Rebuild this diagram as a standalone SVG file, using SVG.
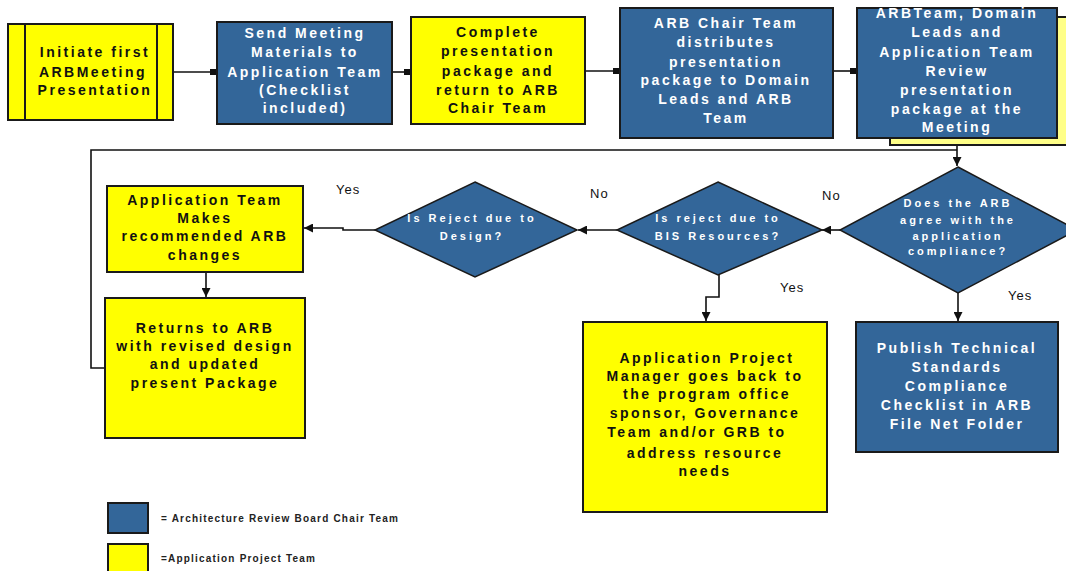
<svg xmlns="http://www.w3.org/2000/svg" width="1066" height="571" viewBox="0 0 1066 571">
<defs>
<marker id="sq" viewBox="0 0 6 6" refX="6" refY="3" markerWidth="6" markerHeight="6" markerUnits="userSpaceOnUse"><rect x="0" y="0" width="6" height="6" fill="#111"/></marker>
<marker id="arr" viewBox="0 0 10 10" refX="10" refY="5" markerWidth="9" markerHeight="9" markerUnits="userSpaceOnUse" orient="auto"><path d="M0,0 L10,5 L0,10 z" fill="#111"/></marker>
<style>
.blue{fill:#336699;stroke:#1a1a1a;stroke-width:2}
.yel{fill:#ffff00;stroke:#1a1a1a;stroke-width:2}
.tw{fill:#ffffff;font-family:"Liberation Sans",Arial,sans-serif;font-size:14px;font-weight:bold;letter-spacing:2.5px;text-anchor:middle}
.tb{fill:#111111;font-family:"Liberation Sans",Arial,sans-serif;font-size:14px;font-weight:bold;letter-spacing:2.5px;text-anchor:middle}
.td{fill:#ffffff;font-family:"Liberation Sans",Arial,sans-serif;font-size:11px;font-weight:bold;letter-spacing:3px;text-anchor:middle}
.lbl{fill:#111111;font-family:"Liberation Sans",Arial,sans-serif;font-size:13px;letter-spacing:1px}
.leg{fill:#222222;font-family:"Liberation Sans",Arial,sans-serif;font-size:10px;font-weight:bold;letter-spacing:1.2px}
.c{fill:none;stroke:#111;stroke-width:1.6}
</style>
</defs>
<rect width="1066" height="571" fill="#ffffff"/>

<g id="connectors">
<line class="c" x1="173" y1="72" x2="216" y2="72" marker-end="url(#sq)"/>
<line class="c" x1="392" y1="72" x2="410" y2="72" marker-end="url(#sq)"/>
<line class="c" x1="585" y1="71" x2="619" y2="71" marker-end="url(#sq)"/>
<line class="c" x1="833" y1="71" x2="856" y2="71" marker-end="url(#sq)"/>
<polyline class="c" points="957,138 957,166" marker-end="url(#arr)"/>
<polyline class="c" points="105,368 91,368 91,150 957,150"/>
<polyline class="c" points="958,293 958,321" marker-end="url(#arr)"/>
<polyline class="c" points="840,230 822,230" marker-end="url(#arr)"/>
<polyline class="c" points="617,230 578,230" marker-end="url(#arr)"/>
<polyline class="c" points="375,230 343,230 343,228 304,228" marker-end="url(#arr)"/>
<polyline class="c" points="206,272 206,297" marker-end="url(#arr)"/>
<polyline class="c" points="719,275 719,297 706,297 706,321" marker-end="url(#arr)"/>
</g>

<g id="n1">
<rect class="yel" x="8" y="24" width="165" height="96"/>
<line x1="25" y1="24" x2="25" y2="120" stroke="#1a1a1a" stroke-width="2"/>
<line x1="157" y1="24" x2="157" y2="120" stroke="#1a1a1a" stroke-width="2"/>
<text class="tb" x="95" y="57">Initiate first</text>
<text class="tb" x="93" y="77">ARBMeeting</text>
<text class="tb" x="95" y="95">Presentation</text>
</g>

<g id="n2">
<rect class="blue" x="217" y="22" width="175" height="102"/>
<text class="tw" x="305" y="38">Send Meeting</text>
<text class="tw" x="305" y="57">Materials to</text>
<text class="tw" x="305" y="77">Application Team</text>
<text class="tw" x="305" y="95">(Checklist</text>
<text class="tw" x="305" y="113">included)</text>
</g>

<g id="n3">
<rect class="yel" x="411" y="17" width="174" height="107"/>
<text class="tb" x="498" y="37">Complete</text>
<text class="tb" x="498" y="56">presentation</text>
<text class="tb" x="498" y="76">package and</text>
<text class="tb" x="498" y="95">return to ARB</text>
<text class="tb" x="498" y="113">Chair Team</text>
</g>

<g id="n4">
<rect class="blue" x="620" y="8" width="213" height="130"/>
<text class="tw" x="726" y="28">ARB Chair Team</text>
<text class="tw" x="726" y="47">distributes</text>
<text class="tw" x="726" y="67">presentation</text>
<text class="tw" x="726" y="85">package to Domain</text>
<text class="tw" x="726" y="104">Leads and ARB</text>
<text class="tw" x="726" y="123">Team</text>
</g>

<g id="n5">
<rect x="890" y="17" width="180" height="128" fill="#ffff88" stroke="#1a1a1a" stroke-width="2"/>
<rect class="blue" x="857" y="8" width="200" height="130"/>
<text class="tw" x="957" y="18">ARBTeam, Domain</text>
<text class="tw" x="957" y="37">Leads and</text>
<text class="tw" x="957" y="57">Application Team</text>
<text class="tw" x="957" y="76">Review</text>
<text class="tw" x="957" y="95">presentation</text>
<text class="tw" x="957" y="114">package at the</text>
<text class="tw" x="957" y="132">Meeting</text>
</g>

<g id="d1">
<polygon points="958,167 1077,230 958,293 840,230" fill="#336699" stroke="#1a1a1a" stroke-width="1.5"/>
<text class="td" x="958" y="207">Does the ARB</text>
<text class="td" x="958" y="224">agree with the</text>
<text class="td" x="958" y="240">application</text>
<text class="td" x="958" y="255">compliance?</text>
</g>

<g id="d2">
<polygon points="718,182 822,230 718,275 617,230" fill="#336699" stroke="#1a1a1a" stroke-width="1.5"/>
<text class="td" x="718" y="222">Is reject due to</text>
<text class="td" x="718" y="240">BIS Resources?</text>
</g>

<g id="d3">
<polygon points="475,182 577,230 475,277 375,230" fill="#336699" stroke="#1a1a1a" stroke-width="1.5"/>
<text class="td" x="472" y="222">Is Reject due to</text>
<text class="td" x="472" y="240">Design?</text>
</g>

<g id="n6">
<rect class="yel" x="107" y="186" width="196" height="86"/>
<text class="tb" x="205" y="205">Application Team</text>
<text class="tb" x="205" y="223">Makes</text>
<text class="tb" x="205" y="241">recommended ARB</text>
<text class="tb" x="205" y="260">changes</text>
</g>

<g id="n7">
<rect class="yel" x="105" y="298" width="200" height="140"/>
<text class="tb" x="205" y="333">Returns to ARB</text>
<text class="tb" x="205" y="351">with revised design</text>
<text class="tb" x="205" y="369">and updated</text>
<text class="tb" x="205" y="388">present Package</text>
</g>

<g id="n8">
<rect class="yel" x="583" y="322" width="244" height="190"/>
<text class="tb" x="707" y="363">Application Project</text>
<text class="tb" x="705" y="381">Manager goes back to</text>
<text class="tb" x="707" y="399">the program office</text>
<text class="tb" x="705" y="418">sponsor, Governance</text>
<text class="tb" x="697" y="437">Team and/or GRB to</text>
<text class="tb" x="705" y="458">address resource</text>
<text class="tb" x="705" y="476">needs</text>
</g>

<g id="n9">
<rect class="blue" x="856" y="322" width="202" height="130"/>
<text class="tw" x="957" y="353">Publish Technical</text>
<text class="tw" x="957" y="372">Standards</text>
<text class="tw" x="957" y="391">Compliance</text>
<text class="tw" x="957" y="410">Checklist in ARB</text>
<text class="tw" x="957" y="429">File Net Folder</text>
</g>

<g id="labels">
<text class="lbl" x="336" y="194">Yes</text>
<text class="lbl" x="590" y="198">No</text>
<text class="lbl" x="822" y="200">No</text>
<text class="lbl" x="780" y="292">Yes</text>
<text class="lbl" x="1008" y="300">Yes</text>
</g>

<g id="legend">
<rect x="108" y="503" width="40" height="30" fill="#336699" stroke="#1a1a1a" stroke-width="2"/>
<rect x="108" y="544" width="40" height="30" fill="#ffff00" stroke="#1a1a1a" stroke-width="2"/>
<text class="leg" x="161" y="522">= Architecture Review Board Chair Team</text>
<text class="leg" x="161" y="562">=Application Project Team</text>
</g>
</svg>
